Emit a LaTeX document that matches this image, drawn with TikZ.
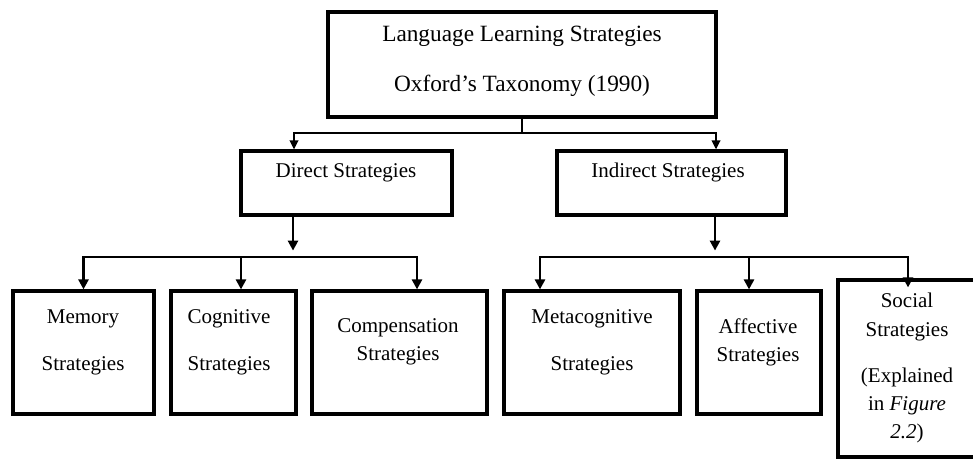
\documentclass[tikz,border=0pt]{standalone}
\usepackage{fontspec}
\setmainfont{Liberation Serif}
\usetikzlibrary{arrows.meta}
\begin{document}
\begin{tikzpicture}[x=1pt,y=-1pt,
  box/.style={draw, line width=3.2pt, inner sep=0pt},
  txt/.style={anchor=base, inner sep=0pt, font=\fontsize{21}{25}\selectfont},
  ttl/.style={anchor=base, inner sep=0pt, font=\fontsize{23.3}{28}\selectfont},
  conn/.style={line width=2.6pt, -{Triangle[width=10pt,length=10pt]}},
  thinc/.style={line width=2pt, -{Triangle[width=8.5pt,length=9pt]}},
  barline/.style={line width=2.6pt, line cap=rect}]
\fill[white] (0,0) rectangle (973,458);
\useasboundingbox (0,0) rectangle (973,458);

% boxes
\node[box, minimum width=388pt, minimum height=105pt] (top) at (522,64.5) {};
\node[box, minimum width=211pt, minimum height=64pt] (direct) at (346.5,183) {};
\node[box, minimum width=229pt, minimum height=64pt] (indirect) at (671.5,183) {};
\node[box, minimum width=141pt, minimum height=123pt] (memory) at (83.5,352.5) {};
\node[box, minimum width=125pt, minimum height=123pt] (cognitive) at (233.5,352.5) {};
\node[box, minimum width=175pt, minimum height=123pt] (compensation) at (399.5,352.5) {};
\node[box, minimum width=176pt, minimum height=123pt] (meta) at (592,352.5) {};
\node[box, minimum width=124pt, minimum height=123pt] (affective) at (759,352.5) {};
\node[box, minimum width=142pt, minimum height=177pt] (social) at (909,368.5) {};

% texts
\node[ttl] (t1) at (522,41) {Language Learning Strategies};
\node[ttl] (t2) at (522,91) {Oxford's Taxonomy (1990)};
\node[txt] (d1) at (346,177) {Direct Strategies};
\node[txt] (i1) at (668,177) {Indirect Strategies};
\node[txt] (m1) at (83,323) {Memory};
\node[txt] (m2) at (83,370) {Strategies};
\node[txt] (c1) at (229,323) {Cognitive};
\node[txt] (c2) at (229,370) {Strategies};
\node[txt] (p1) at (398,332) {Compensation};
\node[txt] (p2) at (398,360) {Strategies};
\node[txt] (mc1) at (592,323) {Metacognitive};
\node[txt] (mc2) at (592,370) {Strategies};
\node[txt] (a1) at (758,333) {Affective};
\node[txt] (a2) at (758,361) {Strategies};
\node[txt] (s1) at (907,307) {Social};
\node[txt] (s2) at (907,336) {Strategies};
\node[txt] (s3) at (907,382) {(Explained};
\node[txt] (s4) at (907,410) {in \textit{Figure}};
\node[txt] (s5) at (907,438) {\textit{2.2})};

% top connectors
\coordinate (jTop) at (522,133);
\draw[thinc] (top.south) -- (jTop) -| ([xshift=-52.5pt]direct.north);
\draw[thinc] (jTop) -| ([xshift=44.5pt]indirect.north);

% direct branch
\coordinate (bL) at (0,257);
\draw[conn] ([xshift=-53.5pt]direct.south) -- ++(0,34);
\draw[barline] (memory.north |- bL) -- ([xshift=17.5pt]compensation.north |- bL);
\draw[conn] (memory.north |- bL) -- (memory.north);
\draw[conn] ([xshift=7.5pt]cognitive.north |- bL) -- ([xshift=7.5pt]cognitive.north);
\draw[conn] ([xshift=17.5pt]compensation.north |- bL) -- ([xshift=17.5pt]compensation.north);

% indirect branch
\draw[conn] ([xshift=43.5pt]indirect.south) -- ++(0,34);
\draw[barline] ([xshift=-52pt]meta.north |- bL) -- ([xshift=-1pt]social.north |- bL);
\draw[conn] ([xshift=-52pt]meta.north |- bL) -- ([xshift=-52pt]meta.north);
\draw[conn] ([xshift=-10pt]affective.north |- bL) -- ([xshift=-10pt]affective.north);
\draw[conn] ([xshift=-1pt]social.north |- bL) -- ([xshift=-1pt,yshift=-9pt]social.north);
\end{tikzpicture}
\end{document}
